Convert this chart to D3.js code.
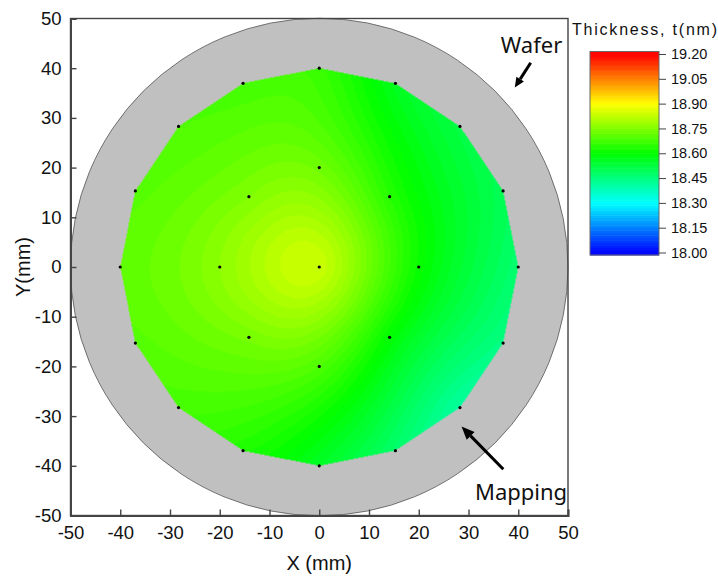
<!DOCTYPE html>
<html>
<head>
<meta charset="utf-8">
<script src="https://cdn.jsdelivr.net/npm/d3@7"></script>
<style>
  html, body { margin: 0; padding: 0; background: #fff; }
  svg { display: block; }
</style>
</head>
<body>
<svg id="chart" width="718" height="577"></svg>
<script>
// Film thickness measured at 25 sites on the wafer (mm, nm)
const siteX = [0,
  20, 14.14, 0, -14.14, -20, -14.14, 0, 14.14,
  40, 36.96, 28.28, 15.31, 0, -15.31, -28.28, -36.96,
  -40, -36.96, -28.28, -15.31, 0, 15.31, 28.28, 36.96];
const siteY = [0,
  0, 14.14, 20, 14.14, 0, -14.14, -20, -14.14,
  0, 15.31, 28.28, 36.96, 40, 36.96, 28.28, 15.31,
  0, -15.31, -28.28, -36.96, -40, -36.96, -28.28, -15.31];
const thickness = [18.835,
  18.61, 18.645, 18.73, 18.75, 18.765, 18.74, 18.69, 18.60,
  18.47, 18.50, 18.52, 18.565, 18.665, 18.68, 18.69, 18.70,
  18.71, 18.70, 18.68, 18.635, 18.555, 18.475, 18.415, 18.445];

const axisTicks = [-50, -40, -30, -20, -10, 0, 10, 20, 30, 40, 50];
const colorTicks = [18.00, 18.15, 18.30, 18.45, 18.60, 18.75, 18.90, 19.05, 19.20];
const colorStops = [18.0, 18.3, 18.6, 18.9, 19.2];
const colorRange = ["#0000ff", "#00ffff", "#00ff00", "#ffff00", "#ff0000"];
const waferRadius = 50;

// annotation anchors (mm)
const waferArrow = [[42.5, 41.1], [39.3, 36.1]];
const mappingArrow = [[37.0, -40.7], [28.6, -32.1]];
const waferLabel = [36.5, 43.1];
const mappingLabel = [31.3, -46.9];

const FONT = "'Liberation Sans', Arial, sans-serif";
const NOTE_FONT = "'Noto Sans', 'Open Sans', sans-serif";

const svg = d3.select("#chart");
const px0 = 70.5, px1 = 568, py0 = 18.5, py1 = 515.5;
const x = d3.scaleLinear().domain([-50, 50]).range([px0, px1]);
const y = d3.scaleLinear().domain([-50, 50]).range([py1, py0]);
const color = d3.scaleLinear().domain(colorStops).range(colorRange).clamp(true);

// plot background
svg.append("rect").attr("x", px0).attr("y", py0)
  .attr("width", px1 - px0).attr("height", py1 - py0).attr("fill", "#fff");

// wafer disc
svg.append("circle")
  .attr("cx", x(0)).attr("cy", y(0))
  .attr("r", x(waferRadius) - x(0))
  .attr("fill", "#c0c0c0").attr("stroke", "#555").attr("stroke-width", 0.8);

// ---- thin-plate spline surface through the measured sites ----
const N = siteX.length;
const S = 40;
const U = r => r === 0 ? 0 : r * r * Math.log(r);
const M = N + 3;
const A = [];
for (let i = 0; i < M; i++) A.push(new Array(M + 1).fill(0));
for (let i = 0; i < N; i++) {
  for (let j = 0; j < N; j++) {
    A[i][j] = U(Math.hypot(siteX[i] - siteX[j], siteY[i] - siteY[j]) / S);
  }
  A[i][N] = 1; A[i][N + 1] = siteX[i] / S; A[i][N + 2] = siteY[i] / S;
  A[N][i] = 1; A[N + 1][i] = siteX[i] / S; A[N + 2][i] = siteY[i] / S;
  A[i][M] = thickness[i];
}
for (let c = 0; c < M; c++) {
  let p = c;
  for (let r = c + 1; r < M; r++) if (Math.abs(A[r][c]) > Math.abs(A[p][c])) p = r;
  [A[c], A[p]] = [A[p], A[c]];
  for (let r = 0; r < M; r++) {
    if (r === c) continue;
    const f = A[r][c] / A[c][c];
    if (f === 0) continue;
    for (let k = c; k <= M; k++) A[r][k] -= f * A[c][k];
  }
}
const coef = A.map((row, i) => row[M] / row[i]);
function surface(mx, my) {
  let v = coef[N] + coef[N + 1] * mx / S + coef[N + 2] * my / S;
  for (let i = 0; i < N; i++) v += coef[i] * U(Math.hypot(mx - siteX[i], my - siteY[i]) / S);
  return v;
}

// mapped area: convex hull of the measurement sites
const sites = siteX.map((sx, i) => [sx, siteY[i]]);
const hull = d3.polygonHull(sites);
const step = 0.015;

const W = Math.round(px1 - px0), H = Math.round(py1 - py0);
const canvas = document.createElement("canvas");
canvas.width = W; canvas.height = H;
const ctx = canvas.getContext("2d");
const img = ctx.createImageData(W, H);
for (let j = 0; j < H; j++) {
  const my = y.invert(py0 + j + 0.5);
  for (let i = 0; i < W; i++) {
    const mx = x.invert(px0 + i + 0.5);
    if (!d3.polygonContains(hull, [mx, my])) continue;
    const v = surface(mx, my);
    const lvl = 18 + (Math.floor((v - 18) / step) + 0.5) * step;
    const c = d3.rgb(color(lvl));
    const o = (j * W + i) * 4;
    img.data[o] = c.r; img.data[o + 1] = c.g; img.data[o + 2] = c.b; img.data[o + 3] = 255;
  }
}
ctx.putImageData(img, 0, 0);
svg.append("image")
  .attr("x", px0).attr("y", py0).attr("width", W).attr("height", H)
  .attr("href", canvas.toDataURL());

// measurement sites
svg.append("g").selectAll("circle").data(sites).join("circle")
  .attr("cx", d => x(d[0])).attr("cy", d => y(d[1]))
  .attr("r", 1.6).attr("fill", "#000");

// annotation arrows
function arrow(pts, head, width) {
  const [a, b] = pts;
  const x1 = x(a[0]), y1 = y(a[1]), x2 = x(b[0]), y2 = y(b[1]);
  const ang = Math.atan2(y2 - y1, x2 - x1);
  const bx = x2 - head * Math.cos(ang), by = y2 - head * Math.sin(ang);
  svg.append("line").attr("x1", x1).attr("y1", y1).attr("x2", bx).attr("y2", by)
    .attr("stroke", "#000").attr("stroke-width", 3);
  const nx = -Math.sin(ang) * width / 2, ny = Math.cos(ang) * width / 2;
  svg.append("path")
    .attr("d", `M${x2},${y2}L${bx + nx},${by + ny}L${bx - nx},${by - ny}Z`)
    .attr("fill", "#000");
}
arrow(waferArrow, 10, 9);
arrow(mappingArrow, 13, 11);

svg.append("text").attr("x", x(waferLabel[0])).attr("y", y(waferLabel[1]))
  .attr("font-family", NOTE_FONT).attr("font-size", 22).attr("fill", "#111").text("Wafer");
svg.append("text").attr("x", x(mappingLabel[0])).attr("y", y(mappingLabel[1]))
  .attr("font-family", NOTE_FONT).attr("font-size", 22).attr("fill", "#111").text("Mapping");

// frame and axes
svg.append("rect").attr("x", px0).attr("y", py0)
  .attr("width", px1 - px0).attr("height", py1 - py0)
  .attr("fill", "none").attr("stroke", "#444").attr("stroke-width", 1.4);

const plainNum = d => String(d);
const xAxis = svg.append("g").attr("transform", `translate(0,${py1})`)
  .call(d3.axisBottom(x).tickValues(axisTicks).tickSize(-6).tickPadding(10).tickFormat(plainNum));
const yAxis = svg.append("g").attr("transform", `translate(${px0},0)`)
  .call(d3.axisLeft(y).tickValues(axisTicks).tickSize(-6).tickPadding(9).tickFormat(plainNum));
[xAxis, yAxis].forEach(g => {
  g.select(".domain").attr("stroke", "#444").attr("stroke-width", 2);
  g.selectAll(".tick line").attr("stroke", "#444").attr("stroke-width", 1.4);
  g.selectAll(".tick text").attr("font-family", FONT).attr("font-size", 18.5).attr("fill", "#111");
});

svg.append("text").attr("x", (px0 + px1) / 2).attr("y", 570)
  .attr("text-anchor", "middle").attr("font-family", FONT).attr("font-size", 20)
  .attr("fill", "#111").text("X (mm)");
svg.append("text").attr("transform", `translate(30,${(py0 + py1) / 2}) rotate(-90)`)
  .attr("text-anchor", "middle").attr("font-family", FONT).attr("font-size", 20)
  .attr("fill", "#111").text("Y(mm)");

// colour bar
const cb = { x: 590, w: 69, top: 51.5, bottom: 255 };
const cy = d3.scaleLinear().domain([18, 19.2]).range([252.5, 54]);
const bandStep = 0.015;
const barLevels = d3.range(0, 80).map(k => 18 + k * bandStep);
const valTop = cy.invert(cb.top), valBot = cy.invert(cb.bottom);
const bandLo = (d, i) => i === 0 ? valBot : d;
const bandHi = (d, i) => i === barLevels.length - 1 ? valTop : d + bandStep;
const cbar = svg.append("g");
cbar.selectAll("rect").data(barLevels).join("rect")
  .attr("x", cb.x).attr("width", cb.w)
  .attr("y", (d, i) => cy(bandHi(d, i)))
  .attr("height", (d, i) => cy(bandLo(d, i)) - cy(bandHi(d, i)) + 0.5)
  .attr("fill", d => color(d + bandStep / 2));
cbar.append("rect").attr("x", cb.x).attr("y", cb.top).attr("width", cb.w)
  .attr("height", cb.bottom - cb.top).attr("fill", "none").attr("stroke", "#666").attr("stroke-width", 1);
const cAxis = svg.append("g").attr("transform", `translate(${cb.x + cb.w},0)`)
  .call(d3.axisRight(cy).tickValues(colorTicks).tickSize(7).tickPadding(5).tickFormat(d3.format(".2f")));
cAxis.select(".domain").remove();
cAxis.selectAll(".tick line").attr("stroke", "#444");
cAxis.selectAll(".tick text").attr("font-family", FONT).attr("font-size", 14.5).attr("fill", "#111");

svg.append("text").attr("x", 572).attr("y", 35)
  .attr("font-family", FONT).attr("font-size", 16).attr("fill", "#111")
  .attr("textLength", 145).attr("lengthAdjust", "spacing")
  .text("Thickness, t(nm)");
</script>
</body>
</html>
